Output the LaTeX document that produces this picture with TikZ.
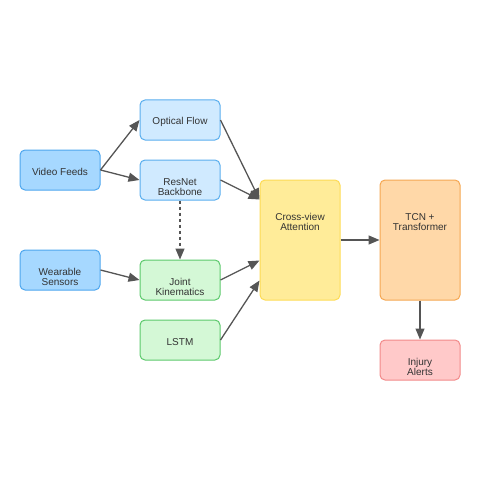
\documentclass[tikz,border=0pt]{standalone}
\usepackage{fontspec}
\setmainfont{Liberation Sans}
\usetikzlibrary{arrows.meta}
\definecolor{txtgray}{HTML}{333333}
\definecolor{arrgray}{HTML}{555555}
\definecolor{bluefill}{HTML}{A6D8FF}
\definecolor{bluedraw}{HTML}{4DA6EE}
\definecolor{skyfill}{HTML}{D0EAFF}
\definecolor{skydraw}{HTML}{5AAEEE}
\definecolor{greenfill}{HTML}{D4F8D6}
\definecolor{greendraw}{HTML}{5CC96C}
\definecolor{yellowfill}{HTML}{FFEC99}
\definecolor{yellowdraw}{HTML}{FDDB55}
\definecolor{orangefill}{HTML}{FFD8A8}
\definecolor{orangedraw}{HTML}{F5A752}
\definecolor{redfill}{HTML}{FFC9C9}
\definecolor{reddraw}{HTML}{F28A8A}

\begin{document}
\begin{tikzpicture}[x=1pt,y=-1pt]
  \tikzset{box/.style={draw, rounded corners=5pt, line width=1pt, minimum width=80pt, minimum height=40pt, inner sep=0pt},
           tall/.style={box, minimum height=120pt},
           lbl/.style={align=center, text=txtgray, font=\fontsize{10}{10}\selectfont},
           arr/.style={draw=arrgray, line width=1.3pt, -{Triangle[length=11pt,width=9pt]}}}
  \useasboundingbox (0,0) rectangle (500,500);

  \node[box, fill=bluefill, draw=bluedraw, label={[lbl,yshift=-2pt]center:Video Feeds}] (video) at (60,170) {};
  \node[box, fill=bluefill, draw=bluedraw, label={[lbl,yshift=-7pt]center:Wearable\\Sensors}] (wear) at (60,270) {};
  \node[box, fill=skyfill, draw=skydraw, label={[lbl,yshift=-2pt]center:Optical Flow}] (flow) at (180,120) {};
  \node[box, fill=skyfill, draw=skydraw, label={[lbl,yshift=-7pt]center:ResNet\\Backbone}] (resnet) at (180,180) {};
  \node[box, fill=greenfill, draw=greendraw, label={[lbl,yshift=-7pt]center:Joint\\Kinematics}] (joint) at (180,280) {};
  \node[box, fill=greenfill, draw=greendraw, label={[lbl,yshift=-2pt]center:LSTM}] (lstm) at (180,340) {};
  \node[tall, fill=yellowfill, draw=yellowdraw, label={[lbl,yshift=18pt]center:Cross-view\\Attention}] (attn) at (300,240) {};
  \node[tall, fill=orangefill, draw=orangedraw, label={[lbl,yshift=18pt]center:TCN +\\Transformer}] (tcn) at (420,240) {};
  \node[box, fill=redfill, draw=reddraw, label={[lbl,yshift=-7pt]center:Injury\\Alerts}] (alert) at (420,360) {};

  % inputs to extractors
  \draw[arr] (video.east) -- (flow.west);
  \draw[arr] (video.east) -- (resnet.west);
  \draw[arr] (wear.east) -- (joint.west);
  \draw[arr, dash pattern=on 3pt off 3pt] (resnet.south) -- (joint.north);

  % into the attention block
  \draw[arr] (flow.east) -- ([yshift=-20pt]attn.north west);
  \draw[arr] (resnet.east) -- ([yshift=-20pt]attn.north west);
  \draw[arr] (joint.east) -- ([yshift=40pt]attn.south west);
  \draw[arr] (lstm.east) -- ([yshift=20pt]attn.south west);

  \draw[arr] (attn.east) -- (tcn.west);
  \draw[arr] (tcn.south) -- (alert.north);
\end{tikzpicture}
\end{document}
